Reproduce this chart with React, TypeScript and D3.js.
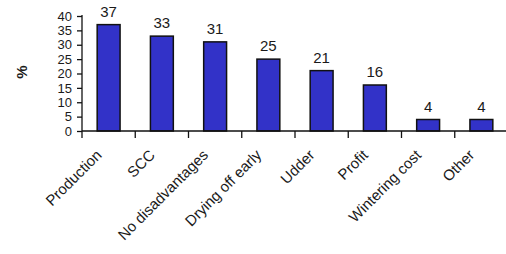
import React, { useEffect, useRef } from 'react';
import * as d3 from 'd3';

const categories = ['Production', 'SCC', 'No disadvantages', 'Drying off early', 'Udder', 'Profit', 'Wintering cost', 'Other'];
const values = [37, 33, 31, 25, 21, 16, 4, 4];
const yTicks = [0, 5, 10, 15, 20, 25, 30, 35, 40];

const FONT = '"Liberation Sans", Arial, sans-serif';

export default function App() {
  const ref = useRef<SVGSVGElement>(null);
  useEffect(() => {
    const svg = d3.select(ref.current);
    svg.selectAll('*').remove();
    const left = 82, right = 508, bottom = 131, top = 16;

    const x = d3.scaleBand<string>().domain(categories).range([left, right]).paddingInner(0.57).paddingOuter(0.285);
    const xb = d3.scaleBand<string>().domain(categories).range([left, right]);
    const y = d3.scaleLinear().domain([0, 40]).range([bottom, top]);

    // bars
    svg.append('g').selectAll('rect').data(values).join('rect')
      .attr('x', (d, i) => x(categories[i])!)
      .attr('y', d => y(d))
      .attr('width', x.bandwidth())
      .attr('height', d => y(0) - y(d))
      .attr('fill', '#3232c8').attr('stroke', '#111').attr('stroke-width', 1.5);

    // value labels
    svg.append('g').selectAll('text').data(values).join('text')
      .attr('x', (d, i) => x(categories[i])! + x.bandwidth() / 2)
      .attr('y', d => y(d) - 8)
      .attr('text-anchor', 'middle').attr('font-family', FONT).attr('font-size', 15).attr('fill', '#1a1a1a')
      .text(d => d);

    // y axis
    const ya = svg.append('g').attr('transform', `translate(${left},0)`)
      .call(d3.axisLeft(y).tickValues(yTicks).tickSize(5).tickPadding(5));
    ya.select('.domain').attr('stroke', '#111').attr('stroke-width', 1.3).attr('d', `M0,${top - 1}V${bottom}`);
    ya.selectAll('line').attr('stroke', '#111').attr('stroke-width', 1.3);
    ya.selectAll('text').attr('font-family', FONT).attr('font-size', 13).attr('fill', '#1a1a1a');

    // x axis
    const xa = svg.append('g');
    xa.append('line').attr('x1', left).attr('x2', right).attr('y1', bottom).attr('y2', bottom).attr('stroke', '#111').attr('stroke-width', 1.3);
    xa.selectAll('line.tick').data(categories).join('line').attr('class', 'tick')
      .attr('x1', d => xb(d)!).attr('x2', d => xb(d)!).attr('y1', bottom).attr('y2', bottom + 7)
      .attr('stroke', '#111').attr('stroke-width', 1.3);
    xa.selectAll('text').data(categories).join('text')
      .attr('transform', d => `translate(${x(d)! + x.bandwidth() / 2 - 6},${bottom + 25}) rotate(-45)`)
      .attr('text-anchor', 'end').attr('font-family', FONT).attr('font-size', 15).attr('fill', '#1a1a1a')
      .text(d => d);

    // y title
    svg.append('text').attr('transform', 'translate(27,72) rotate(-90)')
      .attr('text-anchor', 'middle').attr('font-family', FONT).attr('font-size', 15).attr('font-weight', 'bold').attr('fill', '#1a1a1a')
      .text('%');
  }, []);
  return (
    <svg ref={ref} width={506} height={254} style={{ position: 'absolute', left: 0, top: 0, background: '#fff' }} />
  );
}
